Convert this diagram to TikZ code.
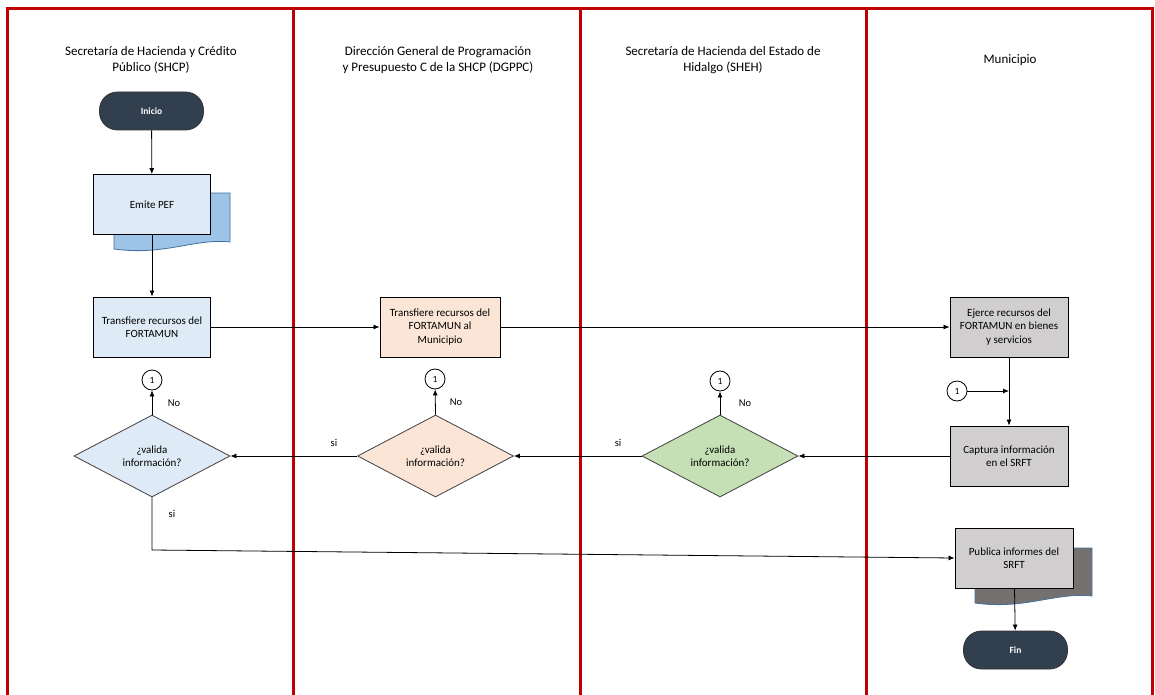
\documentclass[tikz,border=0pt]{standalone}
\usepackage{fontspec}
\setmainfont{Carlito}
\usetikzlibrary{shapes.geometric,arrows.meta}
\definecolor{laneRed}{HTML}{C00000}
\definecolor{blueFill}{HTML}{DEEBF7}
\definecolor{blueDoc}{HTML}{9DC3E6}
\definecolor{blueEdge}{HTML}{41719C}
\definecolor{peachFill}{HTML}{FBE5D6}
\definecolor{greyFill}{HTML}{D0CECE}
\definecolor{greyDoc}{HTML}{767171}
\definecolor{greenFill}{HTML}{C5E0B4}
\definecolor{termFill}{HTML}{323F4F}
\begin{document}
\begin{tikzpicture}[x=1pt,y=-1pt,
  lane/.style={draw=laneRed, line width=3pt},
  hdr/.style={align=center, font=\fontsize{13}{16}\selectfont},
  proc/.style={draw=black, line width=0.9pt, minimum width=117pt, minimum height=60pt, align=center, font=\fontsize{11}{13.5}\selectfont, inner sep=2pt},
  term/.style={draw=black!80, line width=0.8pt, fill=termFill, rounded corners=18pt, minimum width=104pt, minimum height=38pt, text=white, font=\bfseries\fontsize{9.5}{11}\selectfont},
  dec/.style={diamond, draw=black!75, line width=0.8pt, minimum width=156pt, minimum height=82pt, aspect=1.9, inner sep=0pt, align=center, font=\fontsize{11}{13.5}\selectfont},
  conn/.style={circle, draw=black, line width=0.8pt, fill=white, minimum size=20pt, inner sep=0pt, font=\fontsize{9.5}{11}\selectfont},
  arr/.style={-{Latex[length=6pt,width=5pt]}, line width=0.8pt},
  lbl/.style={font=\fontsize{10.5}{11}\selectfont, inner sep=0pt}
]
\useasboundingbox (0,0) rectangle (1155,695);
\fill[white] (0,0) rectangle (1155,695);

% lanes
\draw[lane] (7,700) -- (7,9) -- (1152,9) -- (1152,700);
\draw[lane] (293,9) -- (293,700);
\draw[lane] (580,9) -- (580,700);
\draw[lane] (866,9) -- (866,700);

% headers
\node[hdr] (h1) at (151,60) {Secretaría de Hacienda y Crédito\\Público (SHCP)};
\node[hdr] (h2) at (438,60) {Dirección General de Programación\\y Presupuesto C de la SHCP (DGPPC)};
\node[hdr] (h3) at (723,60) {Secretaría de Hacienda del Estado de\\Hidalgo (SHEH)};
\node[hdr] (h4) at (1010,60) {Municipio};

% document shapes behind
\draw[fill=blueDoc, draw=blueEdge, line width=0.8pt] (114,193) -- (230,193) -- (230,242) .. controls (195,238) and (165,256) .. (114,249) -- cycle;
\draw[fill=greyDoc, draw=blueEdge, line width=0.8pt] (975,548) -- (1092,548) -- (1092,596) .. controls (1055,592) and (1025,610) .. (975,603) -- cycle;

% nodes
\node[term] (inicio) at (151.5,111) {Inicio};
\node[proc, fill=blueFill] (emite) at (152,204.5) {Emite PEF};
\node[proc, fill=blueFill] (t1) at (152,327) {Transfiere recursos del\\FORTAMUN};
\node[proc, fill=peachFill, minimum width=120pt] (t2) at (440,327) {Transfiere recursos del\\FORTAMUN al\\Municipio};
\node[proc, fill=greyFill, minimum width=118pt] (ejerce) at (1009,327) {Ejerce recursos del\\FORTAMUN en bienes\\y servicios};
\node[proc, fill=greyFill, minimum width=118pt] (captura) at (1009,456) {Captura información\\en el SRFT};
\node[proc, fill=greyFill, minimum width=118pt] (publica) at (1014,558) {Publica informes del\\SRFT};
\node[term] (fin) at (1015.5,650) {Fin};

\node[dec, fill=blueFill] (d1) at (152,456) {¿valida\\información?};
\node[dec, fill=peachFill] (d2) at (435.5,456) {¿valida\\información?};
\node[dec, fill=greenFill] (d3) at (720,456) {¿valida\\información?};

\node[conn] (c1) at (152,380) {1};
\node[conn] (c2) at (435,379) {1};
\node[conn] (c3) at (720,381) {1};
\node[conn] (c4) at (957,391) {1};

\coordinate (m) at (ejerce.south |- c4);
\coordinate (bend) at (152,550);

% connectors
\draw[arr] (inicio) -- (emite);
\draw[arr] (emite) -- (t1);
\draw[arr] (t1) -- (t2);
\draw[arr] (t2) -- (ejerce);
\draw[arr] (ejerce) -- (captura);
\draw[arr] (c4) -- (m);
\draw[arr] (captura) -- (d3.east);
\draw[arr] (d3.west) -- (d2.east);
\draw[arr] (d2.west) -- (d1.east);
\draw[arr] (d1.north) -- (c1);
\draw[arr] (d2.north) -- (c2);
\draw[arr] (d3.north) -- (c3);
\draw[arr] (d1.south) -- (bend) -- (publica.west);
\draw[arr] (publica) -- (fin);

% labels
\node[lbl] (no1) at (174,403) {No};
\node[lbl] (no2) at (456,402) {No};
\node[lbl] (no3) at (745,403) {No};
\node[lbl] (si1) at (334,443) {si};
\node[lbl] (si2) at (618,443) {si};
\node[lbl] (si3) at (172,514) {si};
\end{tikzpicture}
\end{document}
